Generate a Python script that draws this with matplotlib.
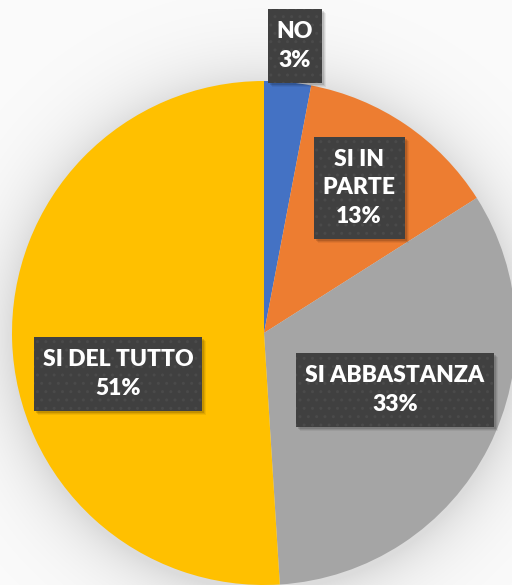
import numpy as np
import matplotlib
matplotlib.use("Agg")
import matplotlib.pyplot as plt
from matplotlib.patches import Rectangle

labels = ["NO", "SI IN\nPARTE", "SI ABBASTANZA", "SI DEL TUTTO"]
values = [3, 13, 33, 51]
colors = ["#4472C4", "#ED7D31", "#A5A5A5", "#FFC000"]

# label box centres, in pixels from the top-left corner
label_pos = [(295, 46), (359, 188), (395, 390), (118, 374)]

W, H = 512, 585
cx, cy, R = 264, 333, 252

fig = plt.figure(figsize=(W / 100, H / 100), dpi=100)
ax = fig.add_axes([0, 0, 1, 1])

# soft shadow round the pie on a near-white background
yy, xx = np.mgrid[0:H, 0:W]
d = np.hypot(xx - cx, yy - (cy + 4))
bg = 1 - 0.13 * np.exp(-np.clip(d - R, 0, None) / 32.0)
bg -= 0.02 * np.clip((d - 150) / 300, 0, 1)
ax.imshow(np.dstack([bg, bg, bg]), extent=(0, W, 0, H), origin="upper",
          zorder=0, interpolation="bilinear")

ax.pie(values, colors=colors, startangle=90, counterclock=False,
       center=(cx, H - cy), radius=R, frame=True,
       wedgeprops=dict(linewidth=0, zorder=2))
ax.set_xlim(0, W)
ax.set_ylim(0, H)
ax.set_aspect("equal")
ax.axis("off")

texts = []
for lab, v, (px, py) in zip(labels, values, label_pos):
    t = ax.text(px, H - py, f"{lab}\n{v}%", ha="center", va="center",
                multialignment="center", color="white", fontsize=16.5,
                fontweight="heavy", family=["Lato", "DejaVu Sans"],
                linespacing=1.42, zorder=6)
    texts.append(t)

fig.canvas.draw()
inv = ax.transData.inverted()
padx, pady = 9, 12
for t in texts:
    bb = t.get_window_extent().transformed(inv)
    x0, y0, w, h = bb.x0 - padx, bb.y0 - pady, bb.width + 2 * padx, bb.height + 2 * pady
    for k, a in [(5, 0.06), (4, 0.08), (3, 0.12)]:
        ax.add_patch(Rectangle((x0 + k - 1, y0 - k + 1), w, h, facecolor="black",
                               edgecolor="none", alpha=a, zorder=4))
    ax.add_patch(Rectangle((x0, y0), w, h, facecolor="#404040",
                           edgecolor="#4a4a4a", hatch="..", linewidth=0, zorder=5))

fig.savefig("out.png", dpi=100)
